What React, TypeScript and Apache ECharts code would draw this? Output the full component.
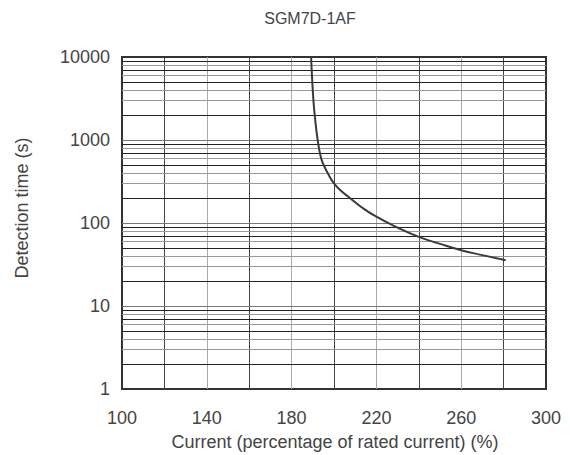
import React, { useEffect, useRef } from "react";
import * as echarts from "echarts";

const chartTitle = "SGM7D-1AF";
const xAxisTitle = "Current (percentage of rated current) (%)";
const yAxisTitle = "Detection time (s)";

const xMin = 100;
const xMax = 300;
const xGridStep = 20;
const xLabelStep = 40;
const yMin = 1;
const yMax = 10000;

// curve
const currentPct = [189.2, 189.6, 190.3, 190.9, 192.3, 193.8, 195.3, 197, 200, 203.3, 207.5, 213, 220, 230, 240, 250, 260, 270, 281];
const detectionTime = [10000, 6000, 3000, 2000, 1000, 620, 490, 400, 300, 245, 200, 155, 119, 88, 68, 56, 47, 41, 35.5];

// log grid lines
const decades = [1, 10, 100, 1000];
const mantissas = [2, 3, 4, 5, 6, 7, 8, 9];
const darkMantissas = [2, 5, 7, 9];

const FONT = "'Liberation Sans', Arial, Helvetica, sans-serif";
const TEXT = "#444";

export default function App() {
  const ref = useRef<HTMLDivElement>(null);
  useEffect(() => {
    document.body.style.margin = "0";
    const chart = echarts.init(ref.current!, null, { renderer: "svg" });

    const gridLines: any[] = [];
    decades.forEach((d, i) => {
      if (i > 0) gridLines.push({ yAxis: d, lineStyle: { color: "#777", width: 1, type: "solid" } });
      mantissas.forEach((m) => {
        gridLines.push({
          yAxis: m * d,
          lineStyle: { color: darkMantissas.includes(m) ? "#222" : "#999", width: 1, type: "solid" },
        });
      });
    });

    chart.setOption({
      animation: false,
      textStyle: { fontFamily: FONT },
      grid: {
        left: 122,
        top: 57,
        width: 424,
        height: 332,
        show: true,
        borderColor: "#333",
        borderWidth: 2,
        backgroundColor: "transparent",
      },
      graphic: [
        {
          type: "text",
          x: 310,
          y: 18,
          style: { text: chartTitle, fontSize: 16, fontFamily: FONT, fill: TEXT, align: "center", verticalAlign: "middle" },
        },
        {
          type: "text",
          x: 335,
          y: 442,
          style: { text: xAxisTitle, fontSize: 18, fontFamily: FONT, fill: TEXT, align: "center", verticalAlign: "middle" },
        },
        {
          type: "text",
          x: 22,
          y: 208,
          rotation: Math.PI / 2,
          style: { text: yAxisTitle, fontSize: 18, fontFamily: FONT, fill: TEXT, align: "center", verticalAlign: "middle" },
        },
      ],
      xAxis: {
        type: "value",
        min: xMin,
        max: xMax,
        interval: xGridStep,
        axisLine: { show: false },
        axisTick: { show: false },
        axisLabel: {
          fontSize: 18,
          color: TEXT,
          fontFamily: FONT,
          margin: 20,
          formatter: (v: number) => ((v - xMin) % xLabelStep === 0 ? String(v) : ""),
        },
        splitLine: {
          show: true,
          showMinLine: false,
          showMaxLine: false,
          lineStyle: { color: ["#444", "#aaa"], width: 1 },
        },
      },
      yAxis: {
        type: "log",
        logBase: 10,
        min: yMin,
        max: yMax,
        splitNumber: 4,
        axisLine: { show: false },
        axisTick: { show: false },
        splitLine: { show: false },
        axisLabel: {
          fontSize: 18,
          color: TEXT,
          fontFamily: FONT,
          margin: 12,
          padding: [6, 0, 0, 0],
          formatter: (v: number) => String(Math.round(v)),
        },
      },
      series: [
        {
          type: "line",
          name: "grid",
          data: [],
          symbol: "none",
          z: 1,
          markLine: {
            silent: true,
            symbol: ["none", "none"],
            label: { show: false },
            animation: false,
            data: gridLines,
          },
        },
        {
          type: "line",
          name: "curve",
          data: currentPct.map((x, i) => [x, detectionTime[i]]),
          showSymbol: false,
          symbol: "none",
          smooth: 0.5,
          lineStyle: { color: "#3a3a3a", width: 2 },
          z: 10,
        },
      ],
    });
    return () => chart.dispose();
  }, []);
  return <div ref={ref} style={{ width: 570, height: 455 }} />;
}
